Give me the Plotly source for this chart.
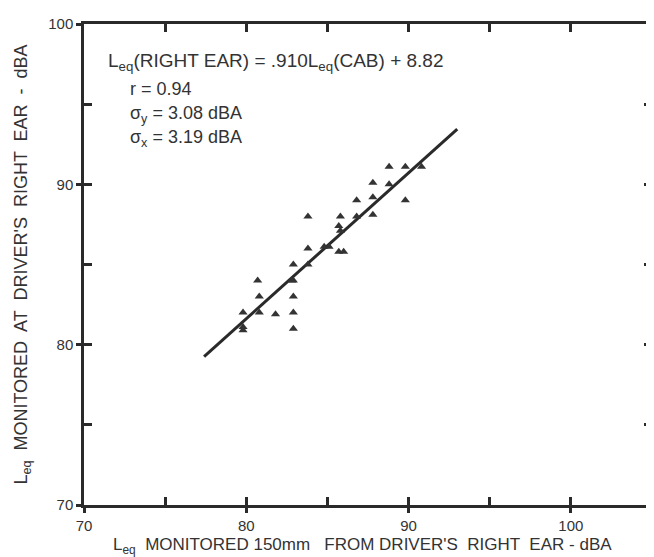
import plotly.graph_objects as go

# Data
x_cab = [88.8, 89.8, 90.8, 87.8, 88.8, 86.8, 87.8, 89.8, 83.8, 85.8, 86.8, 87.8,
         85.7, 85.8, 83.8, 84.8, 85.1, 85.7, 86.0, 82.9, 83.8, 80.7, 82.8, 82.9,
         80.8, 82.9, 79.8, 80.8, 81.8, 82.9, 79.8, 79.8, 82.9]
y_ear = [91.1, 91.1, 91.1, 90.1, 90.0, 89.0, 89.2, 89.0, 88.0, 88.0, 88.0, 88.1,
         87.4, 87.1, 86.0, 86.1, 86.1, 85.8, 85.8, 85.0, 85.0, 84.0, 84.0, 84.0,
         83.0, 83.0, 82.0, 82.0, 81.9, 82.0, 81.1, 80.9, 81.0]

slope = 0.910
intercept = 8.82
line_x = [77.4, 93.0]
line_y = [slope * v + intercept for v in line_x]

x_ticks = [70, 80, 90, 100]
y_ticks = [70, 80, 90, 100]
x_minor = [75, 80, 85, 90, 95, 100]
y_minor = [75, 80, 85, 90, 95]
x_range = [70, 105]
y_range = [70, 100]

INK = "#2a2a2a"
FONT = "Liberation Sans, Arial, Helvetica, sans-serif"

fig = go.Figure()
fig.add_trace(go.Scatter(x=line_x, y=line_y, mode="lines",
                         line=dict(color=INK, width=3), showlegend=False, hoverinfo="skip"))
fig.add_trace(go.Scatter(x=x_cab, y=y_ear, mode="markers",
                         marker=dict(symbol="triangle-up", size=8, color="#333333",
                                     line=dict(width=0)),
                         showlegend=False))
# transparent trace that creates the mirrored top/right axes
fig.add_trace(go.Scatter(x=line_x[:1], y=line_y[:1], xaxis="x2", yaxis="y2", mode="markers",
                         marker=dict(opacity=0), showlegend=False, hoverinfo="skip"))

def base_axis(minor_vals):
    return dict(showgrid=False, zeroline=False, showline=True,
                linecolor=INK, linewidth=2.5, mirror=True,
                ticks="outside", ticklen=5, tickwidth=2.5, tickcolor=INK,
                tickfont=dict(family=FONT, size=15, color="#333333"),
                minor=dict(tickvals=minor_vals, ticks="inside", ticklen=8, tickwidth=2.5,
                           tickcolor=INK, showgrid=False))

fig.update_layout(
    width=654, height=557, autosize=False,
    margin=dict(l=76, r=7, t=13, b=60),
    paper_bgcolor="white", plot_bgcolor="white",
    font=dict(family=FONT, color="#333333"),
    xaxis=dict(range=x_range, tickvals=x_ticks, **base_axis(x_minor)),
    yaxis=dict(range=y_range, tickvals=y_ticks,
               title=dict(text="L<sub>eq</sub>  MONITORED  AT  DRIVER'S  RIGHT  EAR  -  dBA",
                          font=dict(family=FONT, size=18, color="#333333"), standoff=16),
               **base_axis(y_minor)),
    xaxis2=dict(range=x_range, overlaying="x", side="top", anchor="y",
                showgrid=False, zeroline=False, showticklabels=False, showline=False,
                tickmode="array", tickvals=x_minor,
                ticks="inside", ticklen=8, tickwidth=2.5, tickcolor=INK),
    yaxis2=dict(range=y_range, overlaying="y", side="right", anchor="x",
                showgrid=False, zeroline=False, showticklabels=False, showline=False,
                tickmode="array", tickvals=y_minor,
                ticks="inside", ticklen=8, tickwidth=2.5, tickcolor=INK),
)

# x-axis title (as annotation so the subscript is not clipped)
fig.add_annotation(x=0.49, y=-0.1095, xref="paper", yref="paper", xanchor="center", yanchor="bottom",
                   text="L<sub>eq</sub>  MONITORED 150mm   FROM DRIVER'S  RIGHT  EAR - dBA",
                   showarrow=False, font=dict(family=FONT, size=17, color="#333333"),
                   borderpad=0)

ann_font = dict(family=FONT, size=19, color="#333333")
small_font = dict(family=FONT, size=18, color="#333333")
fig.add_annotation(x=0.038, y=0.922, xref="paper", yref="paper", xanchor="left", yanchor="middle",
                   text="L<sub>eq</sub>(RIGHT EAR) = .910L<sub>eq</sub>(CAB) + 8.82",
                   showarrow=False, font=ann_font)
fig.add_annotation(x=0.077, y=0.864, xref="paper", yref="paper", xanchor="left", yanchor="middle",
                   text="r = 0.94", showarrow=False, font=small_font)
fig.add_annotation(x=0.077, y=0.812, xref="paper", yref="paper", xanchor="left", yanchor="middle",
                   text="σ<sub>y</sub> = 3.08 dBA", showarrow=False, font=small_font)
fig.add_annotation(x=0.077, y=0.762, xref="paper", yref="paper", xanchor="left", yanchor="middle",
                   text="σ<sub>x</sub> = 3.19 dBA", showarrow=False, font=small_font)

fig.write_html("out.html")
